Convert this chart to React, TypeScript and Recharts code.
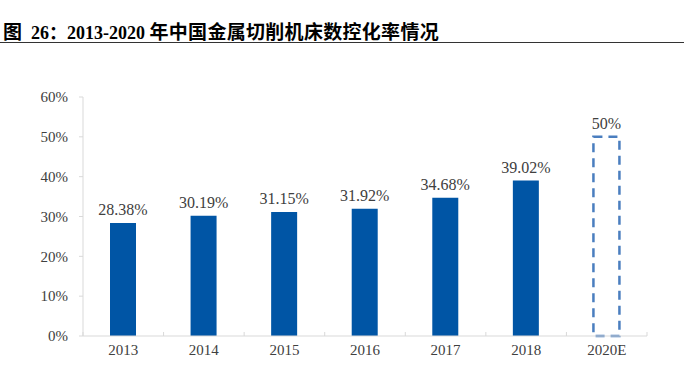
import { BarChart, Bar, XAxis, YAxis, Cell, LabelList } from 'recharts';

const years = ['2013', '2014', '2015', '2016', '2017', '2018', '2020E'];
const rates = [28.38, 30.19, 31.15, 31.92, 34.68, 39.02, 50];
const rateLabels = ['28.38%', '30.19%', '31.15%', '31.92%', '34.68%', '39.02%', '50%'];
const yTicks = [0, 10, 20, 30, 40, 50, 60];

const data = years.map((year, i) => ({ year, rate: rates[i], label: rateLabels[i] }));

const axisColor = '#D9D9D9';
const textColor = '#404040';
const barColor = '#0055A5';
const forecastColor = '#4A7EBF';
const serif = '"Liberation Serif", "Times New Roman", serif';

const chartWidth = 684;
const plotLeft = 83;
const plotRight = 647;
const halfBand = (plotRight - plotLeft) / years.length / 2;

const XTick = (props: any) => {
    const { x, y, payload, index } = props;
    const axisY = y - 8;
    return (
        <g>
            <line x1={x - halfBand} x2={x - halfBand} y1={axisY} y2={axisY - 4} stroke={axisColor} />
            {index === years.length - 1 && (
                <line x1={x + halfBand} x2={x + halfBand} y1={axisY} y2={axisY - 4} stroke={axisColor} />
            )}
            <text x={x} y={y + 11} textAnchor='middle' fill={textColor} fontSize={15} fontFamily={serif}>
                {payload.value}
            </text>
        </g>
    );
};

export default function App() {
    return (
        <div
            style={{
                position: 'absolute',
                top: 0,
                left: 0,
                width: chartWidth,
                height: 379,
                background: '#fff',
            }}
        >
            <div
                style={{
                    position: 'absolute',
                    left: 3,
                    top: 17,
                    fontFamily: '"Liberation Serif", "Noto Sans CJK SC", serif',
                    fontWeight: 'bold',
                    fontSize: 18,
                    color: '#000',
                    whiteSpace: 'nowrap',
                }}
            >
                <span style={{ fontSize: 19 }}>图</span>
                &nbsp;&nbsp;26：2013-2020&nbsp;
                <span style={{ fontSize: 19, letterSpacing: 0.3 }}>年中国金属切削机床数控化率情况</span>
            </div>
            <div
                style={{
                    position: 'absolute',
                    left: 0,
                    top: 42,
                    width: chartWidth,
                    height: 0,
                    borderTop: '1.5px solid #333',
                }}
            />
            <div style={{ position: 'absolute', left: 0, top: 0 }}>
                <BarChart
                    width={chartWidth}
                    height={379}
                    data={data}
                    margin={{ top: 97, right: chartWidth - plotRight, bottom: 13, left: plotLeft - 60 }}
                    barSize={26}
                >
                    <XAxis
                        dataKey='year'
                        height={30}
                        stroke={axisColor}
                        tickLine={false}
                        tick={<XTick />}
                        interval={0}
                    />
                    <YAxis
                        width={60}
                        domain={[0, 60]}
                        ticks={yTicks}
                        tickFormatter={(v: number) => `${v}%`}
                        stroke={axisColor}
                        tickSize={4}
                        tickMargin={11}
                        tick={{ fill: textColor, fontSize: 15, fontFamily: serif }}
                        interval={0}
                    />
                    <Bar dataKey='rate' isAnimationActive={false}>
                        {data.map((d, i) =>
                            i === data.length - 1 ? (
                                <Cell
                                    key={d.year}
                                    fill='#fff'
                                    stroke={forecastColor}
                                    strokeWidth={2.5}
                                    strokeDasharray='9 6'
                                />
                            ) : (
                                <Cell key={d.year} fill={barColor} />
                            )
                        )}
                        <LabelList
                            dataKey='label'
                            position='top'
                            offset={8}
                            fill={textColor}
                            fontSize={16}
                            fontFamily={serif}
                        />
                    </Bar>
                </BarChart>
            </div>
        </div>
    );
}
